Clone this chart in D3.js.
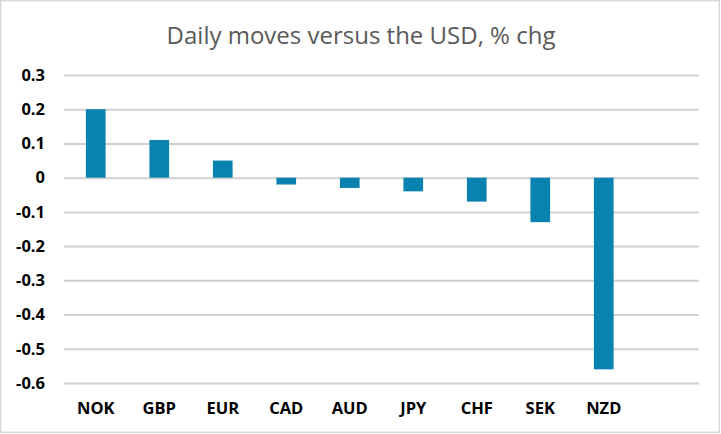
<!DOCTYPE html>
<html>
<head>
<meta charset="utf-8">
<script src="https://cdn.jsdelivr.net/npm/d3@7"></script>
<style>
  body { margin: 0; background: #fff; }
  svg { display: block; }
</style>
</head>
<body>
<div class="chart"></div>
<script>
// data
const currencies = ["NOK", "GBP", "EUR", "CAD", "AUD", "JPY", "CHF", "SEK", "NZD", ""];
const moves = [0.2, 0.11, 0.05, -0.02, -0.03, -0.04, -0.07, -0.13, -0.56, null];
const yTicks = [0.3, 0.2, 0.1, 0, -0.1, -0.2, -0.3, -0.4, -0.5, -0.6];
const title = "Daily moves versus the USD, % chg";

const W = 721, H = 434;
const margin = {top: 75, right: 22, bottom: 51, left: 64};
const width = W - margin.left - margin.right;
const height = H - margin.top - margin.bottom;

const root = d3.select(".chart")
    .append("svg")
    .attr("width", W)
    .attr("height", H);

// chart border
root.append("rect")
    .attr("x", 0.75).attr("y", 0.75)
    .attr("width", W - 2.5).attr("height", H - 2.5)
    .attr("fill", "#fff")
    .attr("stroke", "#d9d9d9")
    .attr("stroke-width", 1.5);

root.append("text")
    .attr("x", 361)
    .attr("y", 44)
    .attr("text-anchor", "middle")
    .attr("font-family", "'Open Sans', sans-serif")
    .attr("font-size", 24)
    .attr("fill", "#595959")
    .text(title);

const svg = root.append("g")
    .attr("transform", `translate(${margin.left},${margin.top})`);

const xScale = d3.scaleBand()
    .domain(d3.range(currencies.length))
    .range([0, width])
    .paddingInner(0.69)
    .paddingOuter(0.345);

const yScale = d3.scaleLinear()
    .domain([0.3, -0.6])
    .range([0, height]);

// gridlines
const yAxis = d3.axisLeft(yScale)
    .tickValues(yTicks)
    .tickSize(-width)
    .tickPadding(19)
    .tickFormat(d => String(d));

const gy = svg.append("g")
    .attr("class", "axis y-axis")
    .call(yAxis);
gy.select(".domain").remove();
gy.selectAll(".tick line")
    .attr("stroke", "#d0d0d0")
    .attr("stroke-width", 2);
gy.selectAll(".tick text")
    .attr("font-family", "'Open Sans', sans-serif")
    .attr("font-size", 16.5)
    .attr("font-weight", "bold")
    .attr("fill", "#000");

// bars
svg.selectAll(".bar")
    .data(moves.map((v, i) => ({v, i})).filter(d => d.v !== null))
    .enter()
    .append("rect")
    .attr("class", "bar")
    .attr("x", d => xScale(d.i))
    .attr("width", xScale.bandwidth())
    .attr("y", d => yScale(Math.max(0, d.v)))
    .attr("height", d => Math.abs(yScale(d.v) - yScale(0)))
    .attr("fill", "#0a82b0");

// category labels
const xAxis = d3.axisBottom(xScale)
    .tickSize(0)
    .tickPadding(19)
    .tickFormat(i => currencies[i]);

const gx = svg.append("g")
    .attr("class", "axis x-axis")
    .attr("transform", `translate(0, ${height})`)
    .call(xAxis);
gx.select(".domain").remove();
gx.selectAll(".tick text")
    .attr("font-family", "'Open Sans', sans-serif")
    .attr("font-size", 16.5)
    .attr("font-weight", "bold")
    .attr("fill", "#000");
</script>
</body>
</html>
